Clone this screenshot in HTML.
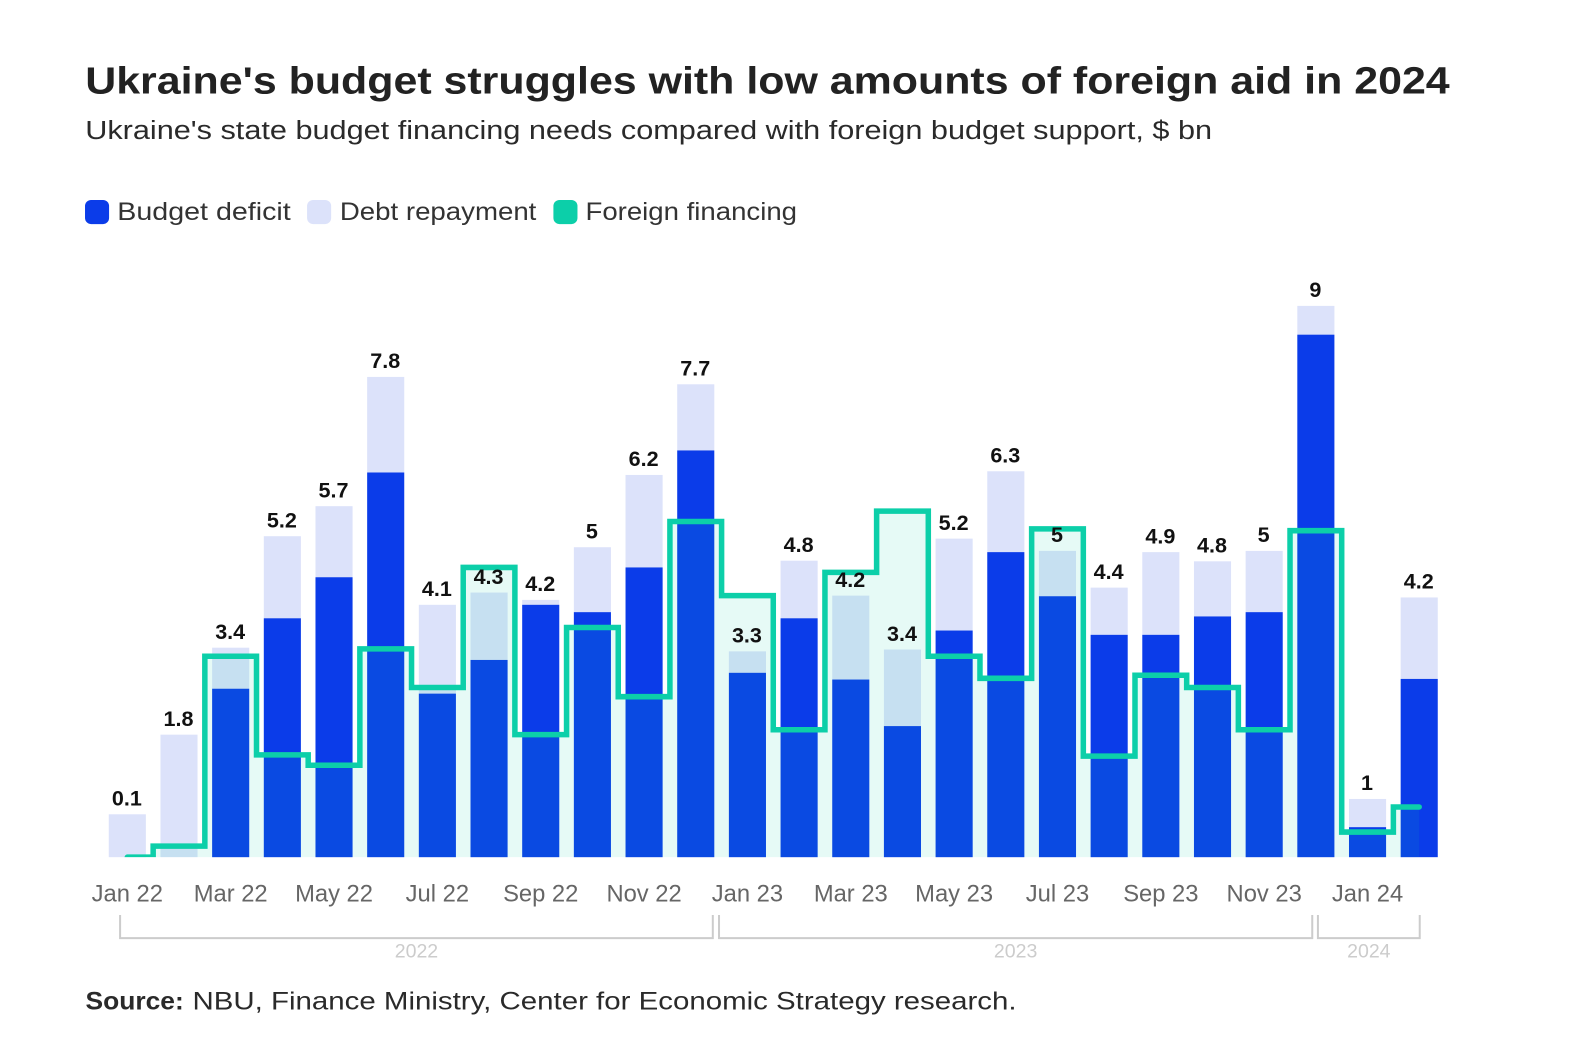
<!DOCTYPE html>
<html lang="en">
<head>
<meta charset="utf-8">
<title>Ukraine's budget struggles with low amounts of foreign aid in 2024</title>
<style>
html,body{margin:0;padding:0;background:#fff;}
svg{display:block;font-family:"Liberation Sans",Arial,sans-serif;}
</style>
</head>
<body>
<svg id="chart" width="1572" height="1064" viewBox="0 0 1568 1061.3" preserveAspectRatio="none" xmlns="http://www.w3.org/2000/svg">
  <defs>
    <clipPath id="plot-clip"><rect x="0" y="0" width="1568" height="855"/></clipPath>
  </defs>
  <text x="85" y="93.4" font-size="37.5" font-weight="700" fill="#222" textLength="1361" lengthAdjust="spacingAndGlyphs">Ukraine's budget struggles with low amounts of foreign aid in 2024</text>
  <text x="85" y="138.6" font-size="25.5" fill="#2a2a2a" textLength="1124" lengthAdjust="spacingAndGlyphs">Ukraine's state budget financing needs compared with foreign budget support, $ bn</text>

  <g>
    <rect x="84.8" y="199.5" width="24" height="24" rx="6" fill="#0b3ce9"/>
    <text x="117" y="219.5" font-size="24.5" fill="#333" textLength="173" lengthAdjust="spacingAndGlyphs">Budget deficit</text>
    <rect x="306.3" y="199.5" width="24" height="24" rx="6" fill="#dce2fa"/>
    <text x="339" y="219.5" font-size="24.5" fill="#333" textLength="196" lengthAdjust="spacingAndGlyphs">Debt repayment</text>
    <rect x="552" y="199.5" width="24" height="24" rx="6" fill="#0ccfa9"/>
    <text x="584" y="219.5" font-size="24.5" fill="#333" textLength="211" lengthAdjust="spacingAndGlyphs">Foreign financing</text>
  </g>

  <g id="bars"></g>
  <path id="area" fill="#0ccfa9" fill-opacity="0.1" stroke="none"></path>
  <path id="line" clip-path="url(#plot-clip)" fill="none" stroke="#0ccfa9" stroke-width="5.5" stroke-linejoin="miter" stroke-linecap="round"></path>
  <g id="labels"></g>
  <g id="ticks"></g>
  <g id="years"></g>

  <g>
    <text x="85.3" y="1006.8" font-size="25" font-weight="700" fill="#2a2a2a" textLength="98" lengthAdjust="spacingAndGlyphs">Source:</text>
    <text x="192" y="1006.8" font-size="25" fill="#2a2a2a" textLength="822" lengthAdjust="spacingAndGlyphs">NBU, Finance Ministry, Center for Economic Strategy research.</text>
  </g>
</svg>
<script>
const months = ["Jan 22","Feb 22","Mar 22","Apr 22","May 22","Jun 22","Jul 22","Aug 22","Sep 22","Oct 22","Nov 22","Dec 22","Jan 23","Feb 23","Mar 23","Apr 23","May 23","Jun 23","Jul 23","Aug 23","Sep 23","Oct 23","Nov 23","Dec 23","Jan 24","Feb 24"];
const budgetDeficit = [0,0,2.75,3.9,4.57,6.28,2.67,3.22,4.12,4.0,4.73,6.64,3.01,3.9,2.9,2.14,3.7,4.98,4.26,3.63,3.63,3.93,4.0,8.53,0.49,2.91];
const debtRepayment = [0.7,2.0,0.67,1.34,1.16,1.56,1.45,1.1,0.08,1.06,1.51,1.08,0.35,0.94,1.37,1.25,1.5,1.32,0.74,0.77,1.35,0.9,1.0,0.47,0.46,1.33];
const foreignFinancing = [0,0.18,3.28,1.67,1.5,3.4,2.77,4.73,2.0,3.75,2.62,5.48,4.27,2.08,4.65,5.65,3.28,2.92,5.36,1.65,2.97,2.77,2.08,5.33,0.41,0.82];
const totalLabels = ["0.1","1.8","3.4","5.2","5.7","7.8","4.1","4.3","4.2","5","6.2","7.7","3.3","4.8","4.2","3.4","5.2","6.3","5","4.4","4.9","4.8","5","9","1","4.2"];
const tickLabels = ["Jan 22","Mar 22","May 22","Jul 22","Sep 22","Nov 22","Jan 23","Mar 23","May 23","Jul 23","Sep 23","Nov 23","Jan 24"];
const yearLabels = ["2022","2023","2024"];
const yearStartMonths = [-0.14,11.45,23.04];
const yearEndMonths = [11.33,22.93,25.01];

const SVG_NS = "http://www.w3.org/2000/svg";
const BASE_Y = 855, UNIT = 61.1, X0 = 127, STEP = 51.544, BAR_W = 37;
function x(i){ return X0 + STEP * i; }
function y(v){ return BASE_Y - UNIT * v; }

const barsG = document.getElementById("bars");
const labelsG = document.getElementById("labels");
const ticksG = document.getElementById("ticks");
const yearsG = document.getElementById("years");

function svgEl(tag, attrs){
  const el = document.createElementNS(SVG_NS, tag);
  for (const k in attrs) el.setAttribute(k, attrs[k]);
  return el;
}

months.forEach(function(m, i){
  const cx = x(i);
  const d = budgetDeficit[i], r = debtRepayment[i];
  const debt = svgEl("rect", {x: cx - BAR_W/2, y: y(d + r), width: BAR_W, height: UNIT * r, fill: "#dce2fa"});
  
  
  barsG.appendChild(debt);
  const def = svgEl("rect", {x: cx - BAR_W/2, y: y(d), width: BAR_W, height: UNIT * d, fill: "#0b3ce9"});
  
  
  barsG.appendChild(def);
  const label = svgEl("text", {x: cx - 0.5, y: y(d + r) - 8.7, "text-anchor": "middle", "font-size": 21.5, "font-weight": 700, fill: "#111"});
  
  
  label.textContent = totalLabels[i];
  labelsG.appendChild(label);
});

let linePath = "";
foreignFinancing.forEach(function(v, i){
  const yy = y(v);
  if (i === 0) {
    linePath = "M" + x(0) + " " + yy;
  } else {
    const mid = (x(i - 1) + x(i)) / 2;
    linePath += " L" + mid + " " + y(foreignFinancing[i - 1]) + " L" + mid + " " + yy;
  }
});
const endX = x(foreignFinancing.length - 1);
linePath += " L" + endX + " " + y(foreignFinancing[foreignFinancing.length - 1]);
document.getElementById("line").setAttribute("d", linePath);
document.getElementById("area").setAttribute("d", linePath + " L" + endX + " " + BASE_Y + " L" + x(0) + " " + BASE_Y + " Z");

tickLabels.forEach(function(t){
  const i = months.indexOf(t);
  const tick = svgEl("text", {x: x(i), y: 899, "text-anchor": "middle", "font-size": 23.7, fill: "#666"});
  
  
  tick.textContent = t;
  ticksG.appendChild(tick);
});

yearLabels.forEach(function(t, i){
  const a = x(yearStartMonths[i]), b = x(yearEndMonths[i]);
  const bracket = svgEl("path", {d: "M" + a + " 912.7 V935.8 H" + b + " V912.7", fill: "none", stroke: "#ccc", "stroke-width": 2});
  
  
  yearsG.appendChild(bracket);
  const label = svgEl("text", {x: (a + b) / 2, y: 955.3, "text-anchor": "middle", "font-size": 19.5, fill: "#ccc"});
  
  
  label.textContent = t;
  yearsG.appendChild(label);
});
</script>
</body>
</html>
